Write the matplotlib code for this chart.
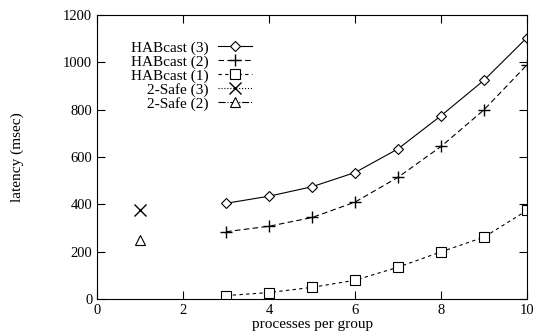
import matplotlib
matplotlib.use('Agg')
import matplotlib.pyplot as plt

plt.rcParams['font.family'] = ['Liberation Serif', 'DejaVu Serif']

X = [3, 4, 5, 6, 7, 8, 9, 10]
hab3 = [405, 435, 475, 535, 635, 775, 925, 1105]
hab2 = [285, 308, 345, 410, 515, 645, 800, 990]
hab1 = [15, 28, 50, 80, 135, 200, 262, 375]
safe_x = [1]
safe3 = [375]
safe2 = [250]

fig = plt.figure(figsize=(5.4, 3.35), dpi=100)
ax = fig.add_axes([0.18, 0.107, 0.796, 0.848])

ax.plot(X, hab3, 'k-', marker='D', markersize=5.5, mfc='white', mew=0.8, lw=0.8, label='HABcast (3)')
ax.plot(X, hab2, 'k--', marker='+', markersize=9, lw=0.8, dashes=(5, 3), label='HABcast (2)')
ax.plot(X, hab1, 'k--', marker='s', markersize=7, mfc='white', mew=0.8, lw=0.8, dashes=(3, 3), label='HABcast (1)')
ax.plot(safe_x, safe3, 'k:', marker='x', markersize=8, lw=0.8, label='2-Safe (3)')
ax.plot(safe_x, safe2, 'k-.', marker='^', markersize=7, mfc='white', mew=0.8, lw=0.8, label='2-Safe (2)')

ax.set_xlim(0, 10)
ax.set_ylim(0, 1200)
ax.set_xticks([0, 2, 4, 6, 8, 10])
ax.set_yticks([0, 200, 400, 600, 800, 1000, 1200])
ax.tick_params(direction='in', top=True, right=True, length=6, labelsize=10.5)
ax.set_xlabel('processes per group', fontsize=11, labelpad=1)
ax.set_ylabel('latency (msec)', fontsize=11, labelpad=28)

ax.legend(loc='upper left', bbox_to_anchor=(0.065, 0.93), frameon=False, markerfirst=False,
          fontsize=11, handlelength=2.2, labelspacing=0.0, borderaxespad=0, handletextpad=0.6)

plt.savefig('out.png', dpi=100)
